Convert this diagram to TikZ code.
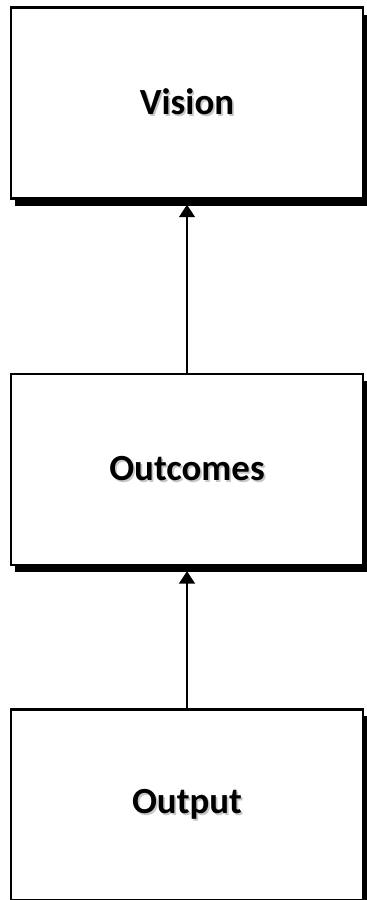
\documentclass[tikz,border=0pt]{standalone}
\usepackage{fontspec}
\setmainfont{Carlito}
\usepackage{tikz}
\usetikzlibrary{arrows.meta,positioning,shadows}

% bold label with a soft grey shadow behind it
\newcommand{\shadowlabel}[1]{\rlap{\hspace{0.035cm}\raisebox{-0.045cm}{\color{black!22}#1}}#1}

\begin{document}
\begin{tikzpicture}[
    level/.style={rectangle, draw=black, fill=white, line width=1.4pt,
        minimum width=7.05cm, minimum height=3.82cm,
        font=\fontsize{21}{25}\selectfont\bfseries,
        drop shadow={shadow xshift=0.08cm, shadow yshift=-0.14cm, opacity=1, fill=black}},
    flow/.style={-{Triangle[width=9pt,length=7pt]}, line width=0.8pt, shorten >=0.1cm},
]

% page frame
\useasboundingbox (0,0) rectangle (7.32,-18);

% Levels
\node[level] (vision) at (3.74,-2.06) {\shadowlabel{Vision}};
\node[level, below=3.46cm of vision] (outcomes) {\shadowlabel{Outcomes}};
\node[level, below=2.84cm of outcomes] (output) {\shadowlabel{Output}};

% Links
\draw[flow] (outcomes) -- (vision);
\draw[flow] (output) -- (outcomes);

\end{tikzpicture}
\end{document}
